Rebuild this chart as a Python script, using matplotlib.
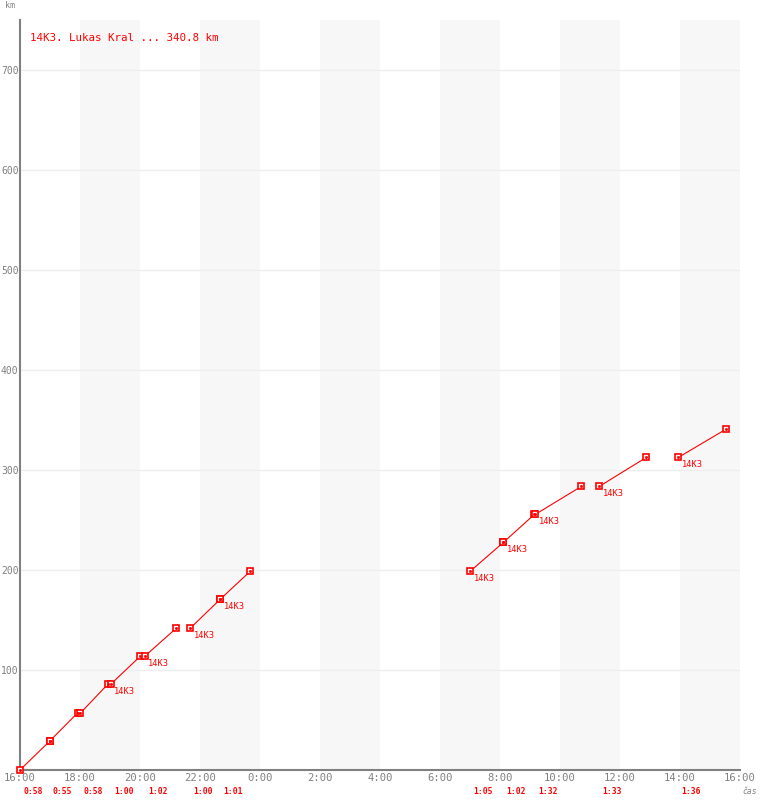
import matplotlib
matplotlib.use("Agg")
import matplotlib.pyplot as plt

# stages of the ride: start time, end time, start km, end km
seg_start = ["16:00", "16:59", "18:01", "19:02", "20:10", "21:41", "22:41",
             "7:01", "8:07", "9:11", "11:19", "13:57"]
seg_end = ["16:59", "17:55", "18:56", "20:01", "21:13", "22:41", "23:41",
           "8:07", "9:09", "10:43", "12:53", "15:32"]
km_start = [0, 28.7, 57, 86, 114, 142, 171, 199, 227.7, 255.7, 283.7, 312.7]
km_end = [28.7, 57, 86, 114, 142, 171, 199, 227.7, 255.7, 283.7, 312.7, 340.8]
durations = ["0:58", "0:55", "0:58", "1:00", "1:02", "1:00", "1:01",
             "1:05", "1:02", "1:32", "1:33", "1:36"]
labeled = [False, False, False, True, True, True, True,
           True, True, True, True, True]

tick_labels = ["16:00", "18:00", "20:00", "22:00", "0:00", "2:00", "4:00",
               "6:00", "8:00", "10:00", "12:00", "14:00", "16:00"]
y_ticks = [100, 200, 300, 400, 500, 600, 700]

RED = "#ff0000"
GRAY = "#808080"
MONO = "DejaVu Sans Mono"


def hours(t):
    h, m = t.split(":")
    v = int(h) + int(m) / 60.0 - 16
    if v < 0:
        v += 24
    return v


fig = plt.figure(figsize=(7.6, 8.0), dpi=100)
ax = fig.add_axes([20 / 760, 30 / 800, 720 / 760, 750 / 800])
ax.set_xlim(0, 24)
ax.set_ylim(0, 750)

# alternating shaded columns
for k in range(1, 12, 2):
    ax.axvspan(2 * k, 2 * k + 2, color="#f7f7f7", lw=0, zorder=0)

for y in y_ticks:
    ax.axhline(y, color="#eeeeee", lw=1, zorder=1)

for i in range(len(seg_start)):
    x0, x1 = hours(seg_start[i]), hours(seg_end[i])
    if x1 < x0:
        x1 += 24
    ax.plot([x0, x1], [km_start[i], km_end[i]], color=RED, lw=0.8, zorder=3)
    ax.plot([x0, x1], [km_start[i], km_end[i]], ls="none", marker="s",
            ms=5, mfc="white", mec=RED, mew=1.2, zorder=4, clip_on=False)
    ax.plot([x0, x1], [km_start[i], km_end[i]], ls="none", marker="s",
            ms=1, color=RED, zorder=5, clip_on=False)
    if labeled[i]:
        ax.annotate("14K3", (x0, km_start[i]), xytext=(3, -3),
                    textcoords="offset pixels", color=RED, fontsize=6.3,
                    family=MONO, ha="left", va="top")
    ax.annotate(durations[i], (x0, 0), xycoords=("data", "figure pixels"),
                xytext=(3, 8), textcoords="offset pixels", color=RED,
                fontsize=5.8, fontweight="bold", family=MONO,
                ha="left", va="center")

ax.set_xticks(range(0, 25, 2))
ax.set_xticklabels(tick_labels)
ax.set_yticks(y_ticks)
ax.tick_params(axis="x", length=0, colors=GRAY, labelsize=7.6, pad=2)
ax.tick_params(axis="y", length=0, colors=GRAY, labelsize=7, pad=1)
for lab in ax.get_xticklabels() + ax.get_yticklabels():
    lab.set_family(MONO)

for s in ["top", "right"]:
    ax.spines[s].set_visible(False)
for s in ["left", "bottom"]:
    ax.spines[s].set_color(GRAY)
    ax.spines[s].set_linewidth(1.5)

fig.text(5 / 760, 1 - 6 / 800, "km", color=GRAY, fontsize=6,
         family=MONO, va="center", ha="left")
fig.text(742 / 760, 1 - 792 / 800, "čas", color=GRAY, fontsize=5.8,
         family=MONO, style="italic", va="center", ha="left")
fig.text(30 / 760, 1 - 38 / 800, "14K3. Lukas Kral ... 340.8 km",
         color=RED, fontsize=7.8, family=MONO, va="center", ha="left")

fig.savefig("out.png", dpi=100)
